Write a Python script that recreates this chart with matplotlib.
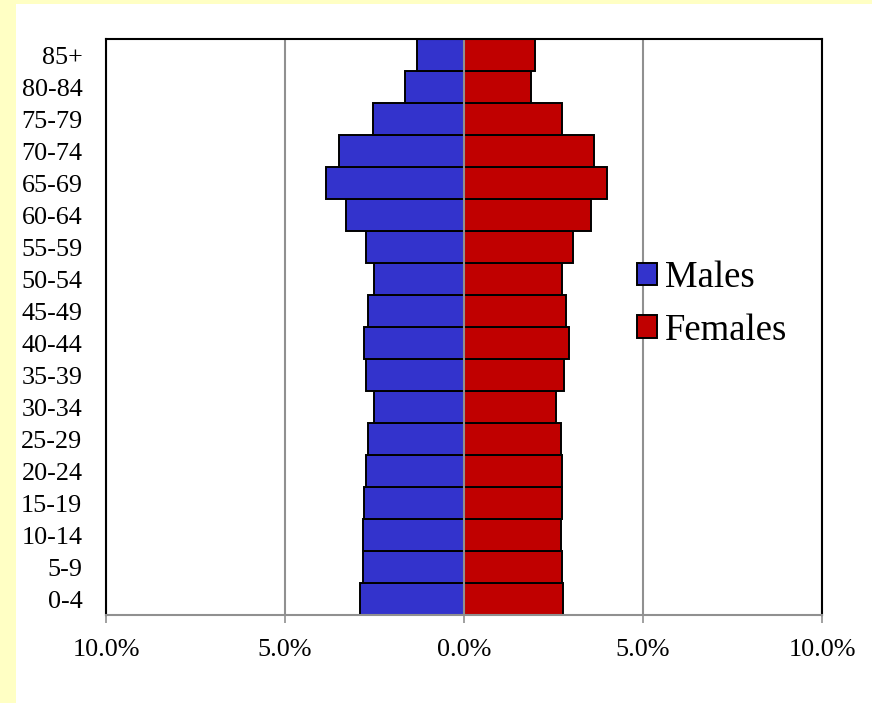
import matplotlib
matplotlib.use("Agg")
import matplotlib.pyplot as plt
from matplotlib.patches import Rectangle
from matplotlib.ticker import FuncFormatter

age_groups = ["0-4", "5-9", "10-14", "15-19", "20-24", "25-29", "30-34", "35-39",
              "40-44", "45-49", "50-54", "55-59", "60-64", "65-69", "70-74",
              "75-79", "80-84", "85+"]
males = [2.91, 2.83, 2.82, 2.79, 2.73, 2.67, 2.51, 2.73, 2.80, 2.67, 2.51, 2.73,
         3.30, 3.85, 3.48, 2.53, 1.65, 1.32]
females = [2.77, 2.73, 2.70, 2.75, 2.73, 2.70, 2.56, 2.80, 2.94, 2.85, 2.73, 3.04,
           3.55, 4.00, 3.64, 2.73, 1.88, 1.97]
x_ticks = [-10, -5, 0, 5, 10]
series_names = ["Males", "Females"]

plt.rcParams['font.family'] = ['Liberation Serif', 'DejaVu Serif']

W, H = 872, 703
fig = plt.figure(figsize=(W / 100, H / 100), dpi=100)
fig.patch.set_facecolor("#FFFFC4")
fig.add_artist(Rectangle((16 / W, 0), (W - 16) / W, (H - 4) / H,
                         transform=fig.transFigure, facecolor="white",
                         edgecolor="none", zorder=0))

ax = fig.add_axes([106 / W, 1 - 615 / H, (822 - 106) / W, (615 - 39) / H])
ax.set_facecolor("white")

ypos = list(range(len(age_groups)))
ax.barh(ypos, [-m for m in males], height=1.0, color="#3333CC",
        edgecolor="black", linewidth=1.4, label=series_names[0], zorder=2)
ax.barh(ypos, females, height=1.0, color="#C00000",
        edgecolor="black", linewidth=1.4, label=series_names[1], zorder=2)

ax.set_xlim(-10, 10)
ax.set_ylim(-0.5, len(age_groups) - 0.5)
ax.set_xticks(x_ticks)
ax.xaxis.set_major_formatter(FuncFormatter(lambda v, p: f"{abs(v):.1f}%"))
ax.set_yticks(ypos)
ax.set_yticklabels(age_groups)

ax.grid(axis="x", color="#909090", linewidth=1.5)
ax.grid(axis="y", visible=False)
ax.set_axisbelow(False)

for s in ["left", "top", "right"]:
    ax.spines[s].set_color("black")
    ax.spines[s].set_linewidth(1.5)
    ax.spines[s].set_zorder(5)
ax.spines["bottom"].set_color("#909090")
ax.spines["bottom"].set_linewidth(1.5)
ax.spines["bottom"].set_zorder(5)

ax.tick_params(axis="y", length=0, pad=17, labelsize=18.8)
ax.tick_params(axis="x", length=6, width=1.2, color="#909090", pad=11.5,
               labelsize=18.8, direction="out")

# center axis ticks at category boundaries
sec = ax.secondary_yaxis(0.5)
sec.set_yticks([i + 0.5 for i in ypos[:-1]])
sec.set_yticklabels([])
sec.tick_params(axis="y", direction="in", length=7, width=1.2, color="#909090")
for s in sec.spines.values():
    s.set_visible(False)

leg = ax.legend(loc="center left", bbox_to_anchor=(637 / W, 1 - 304 / H),
                bbox_transform=fig.transFigure, frameon=False,
                fontsize=26.5, handlelength=0.55, handleheight=0.55,
                handletextpad=0.22, labelspacing=0.49, borderpad=0,
                borderaxespad=0)

fig.savefig("out.png", dpi=100, facecolor=fig.get_facecolor())
